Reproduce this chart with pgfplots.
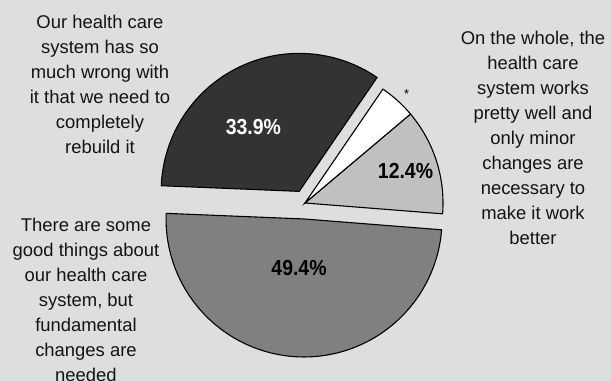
\documentclass[border=0pt]{standalone}
\usepackage{pgfplots}
\pgfplotsset{compat=1.18}
\usepackage{fontspec}
\setmainfont{Liberation Sans}
\definecolor{bg}{RGB}{221,222,224}
\definecolor{sdark}{RGB}{51,51,51}
\definecolor{smid}{RGB}{128,128,128}
\definecolor{slight}{RGB}{192,192,192}
\definecolor{txt}{RGB}{20,20,20}
\begin{document}
\begin{tikzpicture}
% shares (percent)
\def\vMinor{12.4}
\def\vStar{4.3}
\def\vRebuild{33.9}
\def\vFund{49.4}
\def\R{138}
\def\cx{305}
\def\cy{178}
\pgfmathsetmacro{\sA}{-4.5}
\pgfmathsetmacro{\eA}{\sA+\vMinor*3.6}
\pgfmathsetmacro{\eB}{\eA+\vStar*3.6}
\pgfmathsetmacro{\eC}{\eB+\vRebuild*3.6}
\pgfmathsetmacro{\eD}{\eC+\vFund*3.6}
\pgfmathsetmacro{\dcx}{\cx+13*cos((\eB+\eC)/2)}
\pgfmathsetmacro{\dcy}{\cy+13*sin((\eB+\eC)/2)}
\pgfmathsetmacro{\gcx}{\cx+16*cos((\eC+\eD)/2)}
\pgfmathsetmacro{\gcy}{\cy+16*sin((\eC+\eD)/2)}
\begin{axis}[
  width=611bp, height=381bp, scale only axis,
  xmin=0, xmax=611, ymin=0, ymax=381,
  axis lines=none, clip=false,
]
\addplot[draw=none, fill=bg] coordinates {(0,0) (611,0) (611,381) (0,381)} -- cycle;
\coordinate (bl) at (axis cs:0,0);
\coordinate (tr) at (axis cs:611,381);
% light gray 12.4
\addplot[fill=slight, draw=black, line width=1.1pt, domain=\sA:\eA, samples=60, variable=\t]
  ({\cx+\R*cos(\t)}, {\cy+\R*sin(\t)}) -- (axis cs:\cx,\cy) -- cycle;
% white *
\addplot[fill=white, draw=black, line width=1.1pt, domain=\eA:\eB, samples=20, variable=\t]
  ({\cx+\R*cos(\t)}, {\cy+\R*sin(\t)}) -- (axis cs:\cx,\cy) -- cycle;
% dark 33.9
\addplot[fill=sdark, draw=black, line width=1.1pt, domain=\eB:\eC, samples=100, variable=\t]
  ({\dcx+\R*cos(\t)}, {\dcy+\R*sin(\t)}) -- (axis cs:\dcx,\dcy) -- cycle;
% gray 49.4
\addplot[fill=smid, draw=black, line width=1.1pt, domain=\eC:\eD, samples=140, variable=\t]
  ({\gcx+\R*cos(\t)}, {\gcy+\R*sin(\t)}) -- (axis cs:\gcx,\gcy) -- cycle;
% value labels
\node[font=\fontsize{19.5}{22}\selectfont\bfseries, text=white, yscale=1.12, transform shape] at (axis cs:253.4,254.3) {33.9\%};
\node[font=\fontsize{19.5}{22}\selectfont\bfseries, text=black, yscale=1.12, transform shape] at (axis cs:405.5,210.3) {12.4\%};
\node[font=\fontsize{19.5}{22}\selectfont\bfseries, text=black, yscale=1.12, transform shape] at (axis cs:299,112.7) {49.4\%};
\node[font=\fontsize{13}{14}\selectfont, text=black] at (axis cs:406.7,287) {*};
% category labels
\node[align=center, text=txt, font=\fontsize{18.5}{25}\selectfont] at (axis cs:100,296.5)
  {Our health care\\system has so\\much wrong with\\it that we need to\\completely\\rebuild it};
\node[align=center, text=txt, font=\fontsize{18.5}{25}\selectfont] at (axis cs:533,243)
  {On the whole, the\\health care\\system works\\pretty well and\\only minor\\changes are\\necessary to\\make it work\\better};
\node[align=center, text=txt, font=\fontsize{18.5}{25}\selectfont] at (axis cs:86,81)
  {There are some\\good things about\\our health care\\system, but\\fundamental\\changes are\\needed};
\end{axis}
\pgfresetboundingbox
\useasboundingbox (bl) rectangle (tr);
\end{tikzpicture}
\end{document}
